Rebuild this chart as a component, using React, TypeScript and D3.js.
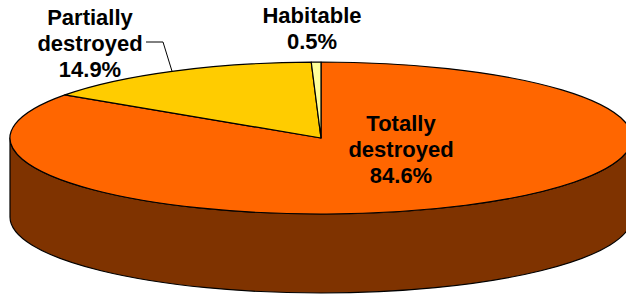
import React from "react";
import * as d3 from "d3";

const categories = ["Totally destroyed", "Partially destroyed", "Habitable"];
const values = [84.6, 14.9, 0.5];
const labels = [["Totally", "destroyed", "84.6%"], ["Partially", "destroyed", "14.9%"], ["Habitable", "0.5%"]];
const colors = ["#FF6600", "#FFCC00", "#FFFF99"];
const sideColors = ["#7F3300", "#806600", "#80804C"];

const width = 626;
const height = 296;
const geo = { cx: 321, cy: 138, rx: 311, ry: 76, depth: 79 };

// label anchors (centre x, first baseline)
const labelPos = [
  { x: 401, y: 131 },
  { x: 90, y: 25 },
  { x: 312, y: 23 },
];

const pt = (a: number, dy = 0): [number, number] => [
  geo.cx + geo.rx * Math.sin(a),
  geo.cy - geo.ry * Math.cos(a) + dy,
];

const topPath = (a0: number, a1: number) => {
  const p0 = pt(a0);
  const p1 = pt(a1);
  const large = a1 - a0 > Math.PI ? 1 : 0;
  return `M${geo.cx},${geo.cy}L${p0[0]},${p0[1]}A${geo.rx},${geo.ry} 0 ${large} 1 ${p1[0]},${p1[1]}Z`;
};

const sidePath = (a0: number, a1: number) => {
  const s = Math.max(a0, Math.PI / 2);
  const e = Math.min(a1, (3 * Math.PI) / 2);
  if (e <= s) return null;
  const p0 = pt(s);
  const p1 = pt(e);
  const q1 = pt(e, geo.depth);
  const q0 = pt(s, geo.depth);
  const large = e - s > Math.PI ? 1 : 0;
  return (
    `M${p0[0]},${p0[1]}A${geo.rx},${geo.ry} 0 ${large} 1 ${p1[0]},${p1[1]}` +
    `L${q1[0]},${q1[1]}A${geo.rx},${geo.ry} 0 ${large} 0 ${q0[0]},${q0[1]}Z`
  );
};

export default function App() {
  const arcs = d3
    .pie<number>()
    .sort(null)
    .value((d) => d)(values);

  const fontSize = 22;
  const lineH = 26;

  // leader for "Partially destroyed"
  const mid = (arcs[1].startAngle + arcs[1].endAngle) / 2;
  const rim = pt(mid);

  return (
    <div style={{ position: "fixed", left: 0, top: 0 }}>
      <svg width={width} height={height} style={{ display: "block", background: "#fff" }}>
        <g stroke="#000" strokeWidth={1.2} strokeLinejoin="round">
          {arcs.map((a, i) => {
            const d = sidePath(a.startAngle, a.endAngle);
            return d ? <path key={"s" + i} d={d} fill={sideColors[i]} /> : null;
          })}
          {arcs.map((a, i) => (
            <path key={"t" + i} d={topPath(a.startAngle, a.endAngle)} fill={colors[i]}>
              <title>{`${categories[i]}: ${values[i]}%`}</title>
            </path>
          ))}
        </g>
        <polyline
          points={`146,42 163,42 ${rim[0]},${rim[1]}`}
          fill="none"
          stroke="#000"
          strokeWidth={1}
        />
        {labels.map((lines, i) => (
          <text
            key={"l" + i}
            textAnchor="middle"
            fontFamily="'Liberation Sans', Arial, sans-serif"
            fontWeight="bold"
            fontSize={fontSize}
            fill="#000"
          >
            {lines.map((t, j) => (
              <tspan key={j} x={labelPos[i].x} y={labelPos[i].y + j * lineH}>
                {t}
              </tspan>
            ))}
          </text>
        ))}
      </svg>
    </div>
  );
}
